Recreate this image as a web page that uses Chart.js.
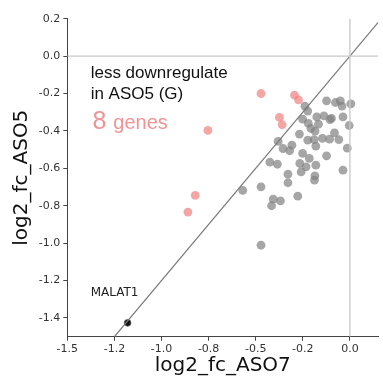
<!DOCTYPE html>
<html>
<head>
<meta charset="utf-8">
<script src="https://cdn.jsdelivr.net/npm/chart.js@4.4.1/dist/chart.umd.min.js"></script>
<style>
  html, body { margin: 0; padding: 0; background: #fff; }
  #wrap { width: 383px; height: 379px; position: relative; }
</style>
</head>
<body>
<div id="wrap"><canvas id="c"></canvas></div>
<script>
// ---- data ----
const grayX = [-0.239,-0.124,-0.077,-0.051,-0.042,0.005,-0.224,-0.176,-0.138,-0.098,-0.106,-0.037,-0.251,-0.221,-0.207,-0.167,-0.004,-0.082,-0.268,-0.185,-0.224,-0.19,-0.146,-0.108,-0.059,-0.381,-0.308,-0.355,-0.32,-0.251,-0.181,-0.216,-0.014,-0.124,-0.425,-0.385,-0.266,-0.233,-0.259,-0.181,-0.037,-0.329,-0.329,-0.186,-0.188,-0.569,-0.472,-0.277,-0.407,-0.369,-0.416,-0.472];
const grayY = [-0.267,-0.239,-0.248,-0.239,-0.267,-0.255,-0.294,-0.325,-0.319,-0.333,-0.339,-0.325,-0.337,-0.36,-0.387,-0.364,-0.371,-0.41,-0.417,-0.401,-0.449,-0.446,-0.44,-0.444,-0.446,-0.456,-0.476,-0.494,-0.506,-0.52,-0.481,-0.547,-0.492,-0.533,-0.567,-0.578,-0.574,-0.592,-0.619,-0.583,-0.61,-0.631,-0.677,-0.64,-0.663,-0.718,-0.699,-0.749,-0.765,-0.774,-0.8,-1.011];
const pinkX = [-0.472,-0.294,-0.273,-0.374,-0.36,-0.754,-0.821,-0.86];
const pinkY = [-0.2,-0.209,-0.234,-0.328,-0.367,-0.397,-0.745,-0.834];
const malatX = [-1.18];
const malatY = [-1.426];
const diagX = [-1.25, 0.15];
const diagY = [-1.5, 0.18];
const xTicks = [-1.5,-1.25,-1.0,-0.75,-0.5,-0.25,0.0];
const xTickLabels = ['-1.5','-1.2','-1.0','-0.8','-0.5','-0.2','0.0'];
const yTicks = [0.2,0.0,-0.2,-0.4,-0.6,-0.8,-1.0,-1.2,-1.4];
const yTickLabels = ['0.2','0.0','-0.2','-0.4','-0.6','-0.8','-1.0','-1.2','-1.4'];
const xRange = [-1.5, 0.15];
const yRange = [-1.5, 0.2];

const zip = (xs, ys) => xs.map((x, i) => ({x, y: ys[i]}));

const annotate = {
  id: 'annotate',
  afterDatasetsDraw(chart) {
    const {ctx, scales: {x, y}} = chart;
    ctx.save();
    ctx.textBaseline = 'alphabetic';
    ctx.textAlign = 'left';
    ctx.fillStyle = '#111';
    ctx.font = '17px "Liberation Sans", Arial, sans-serif';
    ctx.fillText('less downregulate', x.getPixelForValue(-1.376), y.getPixelForValue(-0.115));
    ctx.fillText('in ASO5 (G)', x.getPixelForValue(-1.376), y.getPixelForValue(-0.229));
    ctx.fillStyle = 'rgba(240,128,128,0.85)';
    ctx.font = '25px "Liberation Sans", Arial, sans-serif';
    ctx.fillText('8', x.getPixelForValue(-1.366), y.getPixelForValue(-0.39));
    ctx.font = '20px "Liberation Sans", Arial, sans-serif';
    ctx.fillText('genes', x.getPixelForValue(-1.256), y.getPixelForValue(-0.39));
    ctx.fillStyle = '#222';
    ctx.font = '12px "DejaVu Sans", sans-serif';
    ctx.fillText('MALAT1', x.getPixelForValue(-1.376), y.getPixelForValue(-1.283));
    ctx.restore();
  }
};

new Chart(document.getElementById('c'), {
  type: 'scatter',
  data: {
    datasets: [
      { data: [{x: xRange[0], y: 0}, {x: xRange[1], y: 0}], showLine: true, borderColor: '#c8c8c8', borderWidth: 1.3, pointRadius: 0 },
      { data: [{x: 0, y: yRange[0]}, {x: 0, y: yRange[1]}], showLine: true, borderColor: '#c8c8c8', borderWidth: 1.3, pointRadius: 0 },
      { data: zip(diagX, diagY), showLine: true, borderColor: '#7a7a7a', borderWidth: 1.2, pointRadius: 0 },
      { data: zip(grayX, grayY), backgroundColor: 'rgba(128,128,128,0.7)', borderWidth: 0, pointRadius: 4.4 },
      { data: zip(pinkX, pinkY), backgroundColor: 'rgba(240,128,128,0.7)', borderWidth: 0, pointRadius: 4.4 },
      { data: zip(malatX, malatY), backgroundColor: '#111', borderColor: '#666', borderWidth: 0.8, pointRadius: 3.4 }
    ]
  },
  options: {
    responsive: true,
    maintainAspectRatio: false,
    animation: false,
    layout: { padding: { top: 18.7, right: 0, bottom: 0, left: 0 } },
    plugins: { legend: { display: false }, tooltip: { enabled: false } },
    scales: {
      x: {
        type: 'linear', min: xRange[0], max: xRange[1],
        afterBuildTicks: s => { s.ticks = xTicks.map(v => ({value: v})); },
        afterFit: s => { s.height = 42.3; },
        ticks: {
          callback: (v) => { const i = xTicks.findIndex(t => Math.abs(t - v) < 1e-9); return i >= 0 ? xTickLabels[i] : ''; },
          color: '#333', font: { family: '"DejaVu Sans", sans-serif', size: 11 }, padding: 2, maxRotation: 0, autoSkip: false
        },
        grid: { display: true, drawOnChartArea: false, drawTicks: true, tickLength: 4, color: '#444' },
        border: { display: true, color: '#444', width: 1 },
        title: { display: true, text: 'log2_fc_ASO7', color: '#111', font: { family: '"DejaVu Sans", sans-serif', size: 20 }, padding: { top: 0, bottom: 1 } }
      },
      y: {
        type: 'linear', min: yRange[0], max: yRange[1],
        afterBuildTicks: s => { s.ticks = yTicks.map(v => ({value: v})); },
        afterFit: s => { s.width = 67.3; },
        ticks: {
          callback: (v) => { const i = yTicks.findIndex(t => Math.abs(t - v) < 1e-9); return i >= 0 ? yTickLabels[i] : ''; },
          color: '#333', font: { family: '"DejaVu Sans", sans-serif', size: 11 }, padding: 3, autoSkip: false
        },
        grid: { display: true, drawOnChartArea: false, drawTicks: true, tickLength: 4, color: '#444' },
        border: { display: true, color: '#444', width: 1 },
        title: { display: true, text: 'log2_fc_ASO5', color: '#111', font: { family: '"DejaVu Sans", sans-serif', size: 20 }, padding: { top: 10, bottom: 0 } }
      }
    }
  },
  plugins: [annotate]
});
</script>
</body>
</html>
